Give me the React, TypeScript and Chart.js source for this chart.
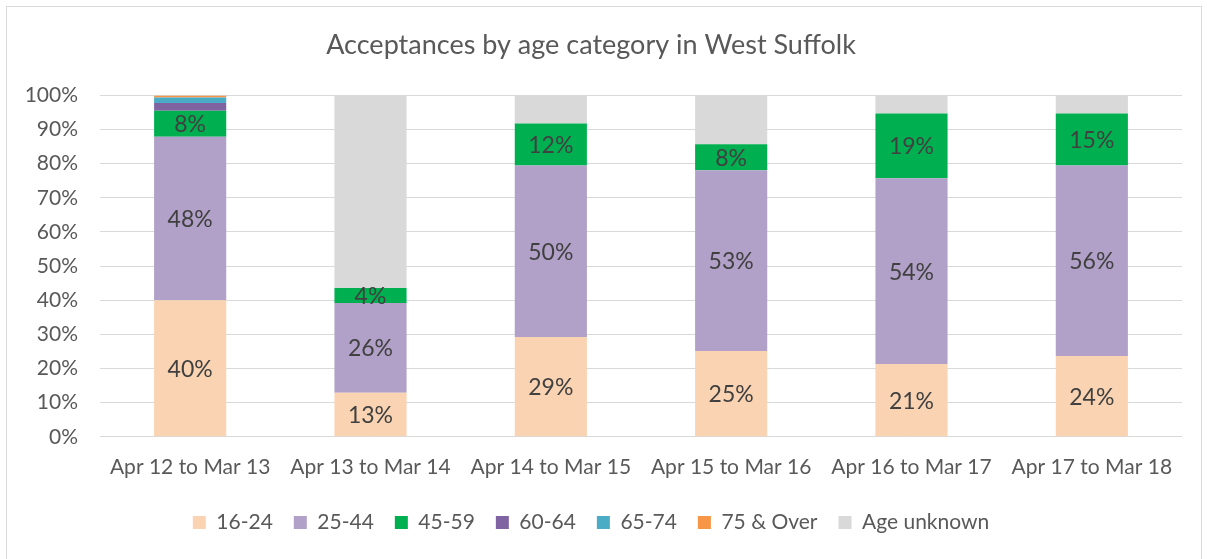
import React, { useEffect, useRef } from "react";
import { Chart, registerables } from "chart.js";

Chart.register(...registerables);

const categories = [
  "Apr 12 to Mar 13",
  "Apr 13 to Mar 14",
  "Apr 14 to Mar 15",
  "Apr 15 to Mar 16",
  "Apr 16 to Mar 17",
  "Apr 17 to Mar 18",
];

const age16to24 = [40.0, 12.9, 29.2, 25.1, 21.3, 23.7];
const age25to44 = [47.9, 26.3, 50.3, 53.0, 54.4, 55.8];
const age45to59 = [7.6, 4.4, 12.3, 7.6, 19.0, 15.2];
const age60to64 = [2.3, 0, 0, 0, 0, 0];
const age65to74 = [1.6, 0, 0, 0, 0, 0];
const age75over = [0.6, 0, 0, 0, 0, 0];
const ageUnknown = [0, 56.4, 8.2, 14.3, 5.3, 5.3];

const yTicks = [0, 10, 20, 30, 40, 50, 60, 70, 80, 90, 100];

const seriesNames = ["16-24", "25-44", "45-59", "60-64", "65-74", "75 & Over", "Age unknown"];
const seriesColors = ["#f9d3b2", "#b1a0c7", "#00b050", "#8064a2", "#4bacc6", "#f79646", "#d9d9d9"];
const labelledSeries = [0, 1, 2];

const FONT = "Lato, 'Open Sans', sans-serif";

const dataLabelPlugin = {
  id: "dataLabels",
  afterDatasetsDraw(chart: any) {
    const ctx = chart.ctx;
    ctx.save();
    ctx.font = `23px ${FONT}`;
    ctx.fillStyle = "#404040";
    ctx.textAlign = "center";
    ctx.textBaseline = "middle";
    labelledSeries.forEach((di) => {
      const meta = chart.getDatasetMeta(di);
      const ds = chart.data.datasets[di];
      meta.data.forEach((bar: any, i: number) => {
        const v = ds.data[i] as number;
        if (!v) return;
        const props = bar.getProps(["x", "y", "base"], true);
        const cy = (props.y + props.base) / 2;
        ctx.fillText(`${Math.round(v)}%`, props.x, cy + 1);
      });
    });
    ctx.restore();
  },
};

export default function App() {
  const canvasRef = useRef<HTMLCanvasElement | null>(null);

  useEffect(() => {
    if (!canvasRef.current) return;
    const allSeries = [age16to24, age25to44, age45to59, age60to64, age65to74, age75over, ageUnknown];
    const chart = new Chart(canvasRef.current, {
      type: "bar",
      data: {
        labels: categories,
        datasets: allSeries.map((d, i) => ({
          label: seriesNames[i],
          data: d,
          backgroundColor: seriesColors[i],
          borderWidth: 0,
          barPercentage: 0.8,
          categoryPercentage: 0.5,
        })),
      },
      options: {
        animation: false,
        responsive: false,
        maintainAspectRatio: false,
        layout: { padding: { left: 0, right: 25, top: 0, bottom: 16 } },
        plugins: {
          title: {
            display: true,
            text: "Acceptances by age category in West Suffolk",
            color: "#595959",
            font: { family: FONT, size: 27, weight: "normal" },
            padding: { top: 29, bottom: 34 },
          },
          legend: {
            position: "bottom",
            labels: {
              boxWidth: 13,
              boxHeight: 13,
              color: "#595959",
              font: { family: FONT, size: 21 },
              padding: 21,
            },
          },
          tooltip: { enabled: false },
        },
        scales: {
          x: {
            stacked: true,
            afterFit: (s: any) => { s.height = s.height - 7; },
            grid: { display: false, drawTicks: false },
            border: { display: false },
            ticks: { color: "#595959", font: { family: FONT, size: 21 }, padding: 18, maxRotation: 0 },
          },
          y: {
            stacked: true,
            min: 0,
            max: 100,
            afterFit: (s: any) => { s.width = 100; },
            afterBuildTicks: (s: any) => { s.ticks = yTicks.map((v) => ({ value: v })); },
            grid: { color: "#d9d9d9", drawTicks: false, lineWidth: 1 },
            border: { display: false },
            ticks: {
              color: "#595959",
              font: { family: FONT, size: 21 },
              padding: 22,
              callback: (v: any) => `${v}%`,
            },
          },
        },
      },
      plugins: [dataLabelPlugin],
    });
    return () => chart.destroy();
  }, []);

  return (
    <div style={{ position: "fixed", left: 0, top: 0, width: 1207, height: 559, background: "#fff" }}>
      <div style={{ position: "absolute", left: 6, top: 6, width: 1196, height: 560, border: "1px solid #d9d9d9", boxSizing: "border-box" }} />
      <canvas ref={canvasRef} width={1207} height={559} style={{ position: "absolute", left: 0, top: 0 }} />
    </div>
  );
}
